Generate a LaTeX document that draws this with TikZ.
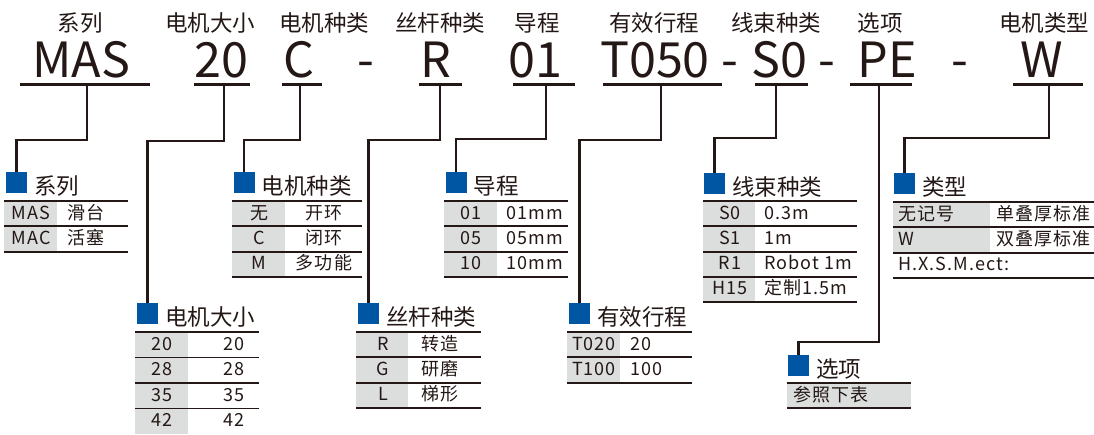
\documentclass[tikz,border=0pt]{standalone}
\usepackage{fontspec}
\setmainfont{Noto Sans CJK SC}
\newfontfamily\cellfont[LetterSpace=6]{Noto Sans CJK SC}
\definecolor{ink}{HTML}{231815}
\definecolor{blu}{HTML}{0056A2}
\definecolor{gry}{HTML}{DCDDDD}
\begin{document}
\begin{tikzpicture}[x=1pt,y=-1pt,
  lab/.style={font=\fontsize{22.5}{22.5}\selectfont, text=ink, inner sep=0, anchor=base},
  code/.style={font=\fontsize{48.5}{48.5}\selectfont, text=ink, inner sep=0, anchor=base},
  ul/.style={draw=ink, line width=3pt},
  conn/.style={draw=ink, line width=2.4pt},
  sq/.style={fill=blu, minimum size=21pt, inner sep=0, outer sep=0},
  ttl/.style={font=\fontsize{22.5}{22.5}\selectfont, text=ink, inner sep=0, anchor=base west, xshift=7pt, yshift=-1.5pt},
  cell/.style={font=\cellfont\fontsize{18}{18}\selectfont, text=ink, inner sep=0, anchor=base},
  cellw/.style={cell, anchor=base west},
  rule/.style={draw=ink, line width=1.8pt},
]
\useasboundingbox (0,0) rectangle (1094,434);
% top labels
\foreach \x/\t [count=\i] in {80/系列,210/电机大小,324/电机种类,440/丝杆种类,537/导程,654/有效行程,776/线束种类,880/选项,1044/电机类型}
  \node[lab] (lab\i) at (\x,31) {\t};
% codes
\foreach \x/\t [count=\i] in {81.5/MAS,221.5/20,298.5/C,366/-,435.5/R,535/01,655/T050,730/-,779/S0,826.5/-,887.5/PE,960/-,1041.5/W}
  \node[code] (code\i) at (\x,77) {\t};
% underlines
\foreach \a/\b in {20/150,194/250,282/322,419/462,513/575,603/722,755/808,850/912,1013/1083}
  \draw[ul] (\a,84) -- (\b,84);
% attach points
\coordinate (uA) at (87,84);
\coordinate (uB) at (224,84);
\coordinate (uC) at (300,84);
\coordinate (uD) at (440,84);
\coordinate (uE) at (546,84);
\coordinate (uF) at (661,84);
\coordinate (uG) at (776,84);
\coordinate (uH) at (879,84);
\coordinate (uI) at (1049,84);
% squares
\node[sq] (sqA) at (16.5,182.5) {};
\node[sq] (sqB) at (147.5,313.5) {};
\node[sq] (sqC) at (244,182.5) {};
\node[sq] (sqD) at (368.5,313.5) {};
\node[sq] (sqE) at (456,182.5) {};
\node[sq] (sqF) at (579.5,313.5) {};
\node[sq] (sqG) at (714.5,183) {};
\node[sq] (sqH) at (798.5,365.5) {};
\node[sq] (sqI) at (904.5,183.5) {};
% connectors
\draw[conn] (uA) -- ++(0,56) -| (sqA.north);
\draw[conn] (uB) -- ++(0,57) -| (sqB.north);
\draw[conn] (uC) -- ++(0,56) -| (sqC.north);
\draw[conn] (uD) -- ++(0,56) -| (sqD.north);
\draw[conn] (uE) -- ++(0,55) -| (sqE.north);
\draw[conn] (uF) -- ++(0,56) -| (sqF.north);
\draw[conn] (uG) -- ++(0,54) -| (sqG.north);
\draw[conn] (uH) -- ++(0,258) -| (sqH.north);
\draw[conn] (uI) -- ++(0,54) -| (sqI.north);
% titles
\node[ttl] (tA) at (sqA.south east) {系列};
\node[ttl] (tB) at (sqB.south east) {电机大小};
\node[ttl] (tC) at (sqC.south east) {电机种类};
\node[ttl] (tD) at (sqD.south east) {丝杆种类};
\node[ttl] (tE) at (sqE.south east) {导程};
\node[ttl] (tF) at (sqF.south east) {有效行程};
\node[ttl] (tG) at (sqG.south east) {线束种类};
\node[ttl] (tH) at (sqH.south east) {选项};
\node[ttl] (tI) at (sqI.south east) {类型};
\def\rh{25.3}
% table A 系列
\foreach \i in {0,1} \fill[gry] (4,{201+\i*\rh}) rectangle (57,{201+(\i+1)*\rh});
\foreach \i in {0,1,2} \draw[rule] (4,{201+\i*\rh}) -- (128,{201+\i*\rh});
\foreach \a/\b [count=\i from 0] in {MAS/滑台,MAC/活塞}{
  \node[cell] (A\i l) at (31,{201+\i*\rh+18}) {\a};
  \node[cellw] (A\i r) at (67,{201+\i*\rh+18}) {\b};}
% table C 电机种类
\foreach \i in {0,1,2} \fill[gry] (232,{201+\i*\rh}) rectangle (285,{201+(\i+1)*\rh});
\foreach \i in {0,1,2,3} \draw[rule] (232,{201+\i*\rh}) -- (362,{201+\i*\rh});
\foreach \a/\b [count=\i from 0] in {无/开环,C/闭环,M/多功能}{
  \node[cell] (C\i l) at (259,{201+\i*\rh+18}) {\a};
  \node[cell] (C\i r) at (324,{201+\i*\rh+18}) {\b};}
% table E 导程
\foreach \i in {0,1,2} \fill[gry] (444,{201+\i*\rh}) rectangle (497,{201+(\i+1)*\rh});
\foreach \i in {0,1,2,3} \draw[rule] (444,{201+\i*\rh}) -- (568,{201+\i*\rh});
\foreach \a/\b [count=\i from 0] in {01/01mm,05/05mm,10/10mm}{
  \node[cell] (E\i l) at (471,{201+\i*\rh+18}) {\a};
  \node[cellw] (E\i r) at (506,{201+\i*\rh+18}) {\b};}
% table G 线束种类
\foreach \i in {0,1,2,3} \fill[gry] (703,{201+\i*\rh}) rectangle (755,{201+(\i+1)*\rh});
\foreach \i in {0,1,2,3,4} \draw[rule] (703,{201+\i*\rh}) -- (857,{201+\i*\rh});
\foreach \a/\b [count=\i from 0] in {S0/0.3m,S1/1m,R1/Robot 1m,H15/定制1.5m}{
  \node[cell] (G\i l) at (730,{201+\i*\rh+18}) {\a};
  \node[cellw] (G\i r) at (764,{201+\i*\rh+18}) {\b};}
% table I 类型
\foreach \i in {0,1} \fill[gry] (893,{202+\i*\rh}) rectangle (990,{202+(\i+1)*\rh});
\foreach \i in {0,1,2,3} \draw[rule] (893,{202+\i*\rh}) -- (1094,{202+\i*\rh});
\foreach \a/\b [count=\i from 0] in {无记号/单叠厚标准,W/双叠厚标准}{
  \node[cellw] (I\i l) at (898,{202+\i*\rh+18}) {\a};
  \node[cellw] (I\i r) at (996,{202+\i*\rh+18}) {\b};}
\node[cellw] (I2l) at (898,{202+2*\rh+18}) {H.X.S.M.ect:};
% table B 电机大小
\foreach \i in {0,1,2,3} \fill[gry] (135,{332+\i*25.5}) rectangle (188,{332+(\i+1)*25.5});
\foreach \i in {0,1,2,3} \draw[rule] (135,{332+\i*25.5}) -- (259,{332+\i*25.5});
\foreach \a/\b [count=\i from 0] in {20/20,28/28,35/35,42/42}{
  \node[cell] (B\i l) at (162,{332+\i*25.5+18}) {\a};
  \node[cell] (B\i r) at (234,{332+\i*25.5+18}) {\b};}
% table D 丝杆种类
\foreach \i in {0,1,2} \fill[gry] (356,{332+\i*\rh}) rectangle (408,{332+(\i+1)*\rh});
\foreach \i in {0,1,2,3} \draw[rule] (356,{332+\i*\rh}) -- (481,{332+\i*\rh});
\foreach \a/\b [count=\i from 0] in {R/转造,G/研磨,L/梯形}{
  \node[cell] (D\i l) at (383,{332+\i*\rh+18}) {\a};
  \node[cell] (D\i r) at (440,{332+\i*\rh+18}) {\b};}
% table F 有效行程
\foreach \i in {0,1} \fill[gry] (567,{332+\i*\rh}) rectangle (620,{332+(\i+1)*\rh});
\foreach \i in {0,1,2} \draw[rule] (567,{332+\i*\rh}) -- (692,{332+\i*\rh});
\foreach \a/\b [count=\i from 0] in {T020/20,T100/100}{
  \node[cell] (F\i l) at (594,{332+\i*\rh+18}) {\a};
  \node[cellw] (F\i r) at (630,{332+\i*\rh+18}) {\b};}
% table H 选项
\fill[gry] (787,383) rectangle (911,408.3);
\draw[rule] (787,383) -- (911,383);
\draw[rule] (787,408.3) -- (911,408.3);
\node[cellw] (H0) at (793,401) {参照下表};
\end{tikzpicture}
\end{document}
